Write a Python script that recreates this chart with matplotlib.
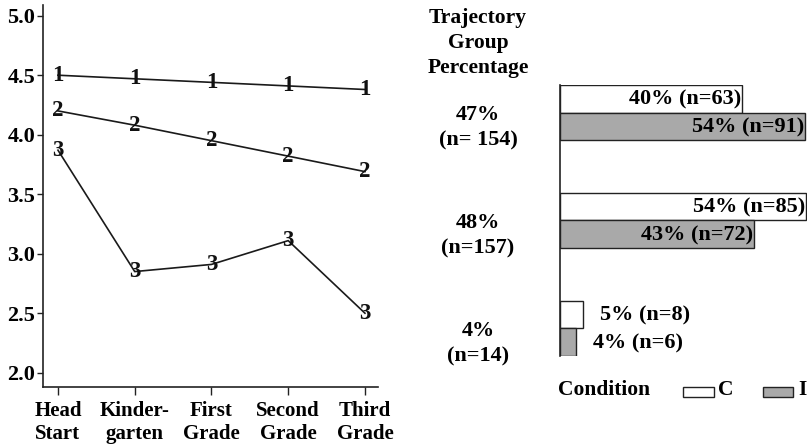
import matplotlib
matplotlib.use("Agg")
import matplotlib.pyplot as plt
from matplotlib.patches import Rectangle
from matplotlib.transforms import blended_transform_factory

plt.rcParams['font.family'] = ['Liberation Serif', 'DejaVu Serif']
plt.rcParams['font.weight'] = 'bold'

# ---- data ----
grades = ["Head\nStart", "Kinder-\ngarten", "First\nGrade", "Second\nGrade", "Third\nGrade"]
group1 = [4.50, 4.47, 4.44, 4.41, 4.38]
group2 = [4.20, 4.08, 3.95, 3.82, 3.69]
group3 = [3.87, 2.85, 2.91, 3.11, 2.50]
group_names = ["1", "2", "3"]
yticks = [2.0, 2.5, 3.0, 3.5, 4.0, 4.5, 5.0]

group_pct_labels = ["47%\n(n= 154)", "48%\n(n=157)", "4%\n(n=14)"]
cond_C = [40.1, 54.1, 5.1]
cond_I = [53.8, 42.6, 3.6]
labels_C = ["40% (n=63)", "54% (n=85)", "5% (n=8)"]
labels_I = ["54% (n=91)", "43% (n=72)", "4% (n=6)"]

W, H = 807, 448
fig = plt.figure(figsize=(W / 100, H / 100), dpi=100)

# ---- left line chart ----
ax = fig.add_axes([43 / W, 1 - 387 / H, 335 / W, 382 / H])
x = list(range(len(grades)))
for vals, name in zip([group1, group2, group3], group_names):
    ax.plot(x, vals, color='#1a1a1a', lw=1.2, zorder=2)
    for xi, v in zip(x, vals):
        ax.text(xi, v, name, ha='center', va='center', fontsize=16.5,
                fontweight='bold', color='#111111', zorder=3)
ax.set_xlim(-0.195, 4.17)
ax.set_ylim(1.88, 5.09)
ax.set_yticks(yticks)
ax.set_yticklabels([f"{t:.1f}" for t in yticks], fontsize=16, fontweight='bold')
ax.set_xticks(x)
ax.set_xticklabels(grades, fontsize=15, fontweight='bold', linespacing=1.2)
for s in ['top', 'right']:
    ax.spines[s].set_visible(False)
for s in ['left', 'bottom']:
    ax.spines[s].set_color('#222222')
    ax.spines[s].set_linewidth(1.2)
ax.tick_params(axis='y', length=4, width=1.0, color='#222222', pad=1.5)
ax.tick_params(axis='x', length=6, width=1.0, color='#222222', pad=4)

# ---- right bar chart ----
bax = fig.add_axes([560 / W, 1 - 356 / H, 340 / W, 271 / H])
h = 0.255
ypos = [0, 1, 2]
bax.barh([y - h / 2 for y in ypos], cond_C, height=h, color='white',
         edgecolor='#222222', linewidth=1.0)
bax.barh([y + h / 2 for y in ypos], cond_I, height=h, color='#a9a9a9',
         edgecolor='#222222', linewidth=1.0)
bax.set_xlim(0, 340 / 4.55)
bax.set_ylim(2 + h, -h)
for s in ['top', 'right', 'bottom']:
    bax.spines[s].set_visible(False)
bax.spines['left'].set_color('#222222')
bax.spines['left'].set_linewidth(1.2)
bax.set_xticks([])
bax.set_yticks([])

fs_bar = 16
for y, v, lab in zip(ypos, cond_C, labels_C):
    if v > 20:
        bax.text(v - 0.2, y - h / 2 + 0.01, lab, ha='right', va='center',
                 fontsize=fs_bar, fontweight='bold')
    else:
        bax.text(v + 3.8, y - h / 2 + 0.01, lab, ha='left', va='center',
                 fontsize=fs_bar, fontweight='bold')
for y, v, lab in zip(ypos, cond_I, labels_I):
    if v > 20:
        bax.text(v - 0.2, y + h / 2 + 0.01, lab, ha='right', va='center',
                 fontsize=fs_bar, fontweight='bold')
    else:
        bax.text(v + 3.6, y + h / 2 + 0.01, lab, ha='left', va='center',
                 fontsize=fs_bar, fontweight='bold')

# group labels
tr = blended_transform_factory(fig.transFigure, bax.transData)
for y, lab in zip(ypos, group_pct_labels):
    bax.text(478 / W, y + 0.14, lab, transform=tr, ha='center', va='center',
             fontsize=16, fontweight='bold', linespacing=1.33)

fig.text(478 / W, 1 - 43 / H, "Trajectory\nGroup\nPercentage", ha='center',
         va='center', fontsize=15.5, fontweight='bold', linespacing=1.3)

# legend
fig.text(558 / W, 1 - 390 / H, "Condition", ha='left', va='center',
         fontsize=15.5, fontweight='bold')
fig.patches.append(Rectangle((683 / W, 1 - 397 / H), 31 / W, 10 / H,
                             transform=fig.transFigure, facecolor='white',
                             edgecolor='#222222', linewidth=1.0))
fig.text(718 / W, 1 - 390 / H, "C", ha='left', va='center',
         fontsize=15.5, fontweight='bold')
fig.patches.append(Rectangle((763 / W, 1 - 397 / H), 30 / W, 10 / H,
                             transform=fig.transFigure, facecolor='#a9a9a9',
                             edgecolor='#222222', linewidth=1.0))
fig.text(798 / W, 1 - 390 / H, "I", ha='left', va='center',
         fontsize=15.5, fontweight='bold')

fig.savefig("out.png", dpi=100)
